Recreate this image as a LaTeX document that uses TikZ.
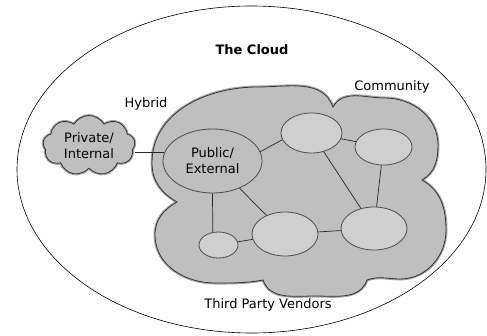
\documentclass[tikz,border=0pt]{standalone}
\usepackage{fontspec}
\setmainfont{DejaVu Sans}
\usetikzlibrary{shapes.geometric,shapes.symbols}

\begin{document}
\begin{tikzpicture}[x=1pt,y=1pt,font=\fontsize{13}{16}\selectfont]
	\tikzstyle{ell_node}
	  =[draw=black!70, ellipse, fill=black!19, inner sep=0pt, line width=0.8pt]
	\tikzstyle{halo}
	  =[preaction={draw=black!35, line width=3pt}]
	\tikzstyle{link}
	  =[draw=black!85, line width=0.7pt]
	\tikzstyle{lbl}
	  =[inner sep=0pt]

	\useasboundingbox (0,0) rectangle (487,335);

	\node[draw, ellipse, minimum width=469pt, minimum height=327pt, line width=0.6pt] (sky)
	  at (251.5,165.5) {};

	\filldraw[halo, fill=black!25, draw=black!80, line width=0.8pt]
	  (177,133) to[out=150,in=270] (152,172) to[out=90,in=180] (258,248) to[out=0,in=110] (333,228)
	  to[out=60,in=180] (385,237) to[out=0,in=90] (438,190) to[out=270,in=30] (422,155)
	  to[out=-30,in=90] (446,105) to[out=270,in=0] (400,56) to[out=180,in=20] (367,55)
	  to[out=250,in=0] (315,39) to[out=180,in=290] (263,55)
	  to[out=190,in=0] (215,52) to[out=180,in=270] (155,100) to[out=90,in=210] (177,133)
	  -- cycle;

	\node[cloud, cloud puffs=9, cloud puff arc=120, cloud ignores aspect, halo, fill=black!25, draw=black!80, line width=0.8pt,
	  minimum width=92pt, minimum height=60pt, inner sep=0pt, align=center] (priv)
	  at (89,189.5) {Private/\\Internal};

	\node[ell_node, fill=black!25, minimum width=99pt, minimum height=64pt, align=center] (pub)
	  at (212.5,174) {Public/\\External};
	\node[ell_node, minimum width=61pt, minimum height=40pt] (c_top)
	  at (311.5,202) {};
	\node[ell_node, minimum width=57pt, minimum height=36pt] (c_right)
	  at (383.5,188) {};
	\node[ell_node, minimum width=39pt, minimum height=26pt] (c_small)
	  at (218.5,90) {};
	\node[ell_node, minimum width=66pt, minimum height=44pt] (c_mid)
	  at (285,101) {};
	\node[ell_node, minimum width=66pt, minimum height=43pt] (c_low)
	  at (374,106.5) {};

	\node[lbl, font=\fontsize{13}{16}\selectfont\bfseries] (title)
	  at (252,285) {The Cloud};
	\node[lbl] (hybrid)
	  at (146,231) {Hybrid};
	\node[lbl] (community)
	  at (392,248) {Community};
	\node[lbl] (vendors)
	  at (268,30) {Third Party Vendors};

	\draw[link] (pub.170) -- (pub.170 -| priv.east);
	\draw[link] (pub.11) -- (c_top.193);
	\draw[link] (c_top) -- (c_right);
	\draw[link] (c_top) -- (c_low);
	\draw[link] (c_right) -- (c_low);
	\draw[link] (c_mid) -- (c_low);
	\draw[link] (c_small) -- (c_mid);
	\draw[link] (pub.south) -- (c_small.114);
	\draw[link] (pub) -- (c_mid);
\end{tikzpicture}
\end{document}
